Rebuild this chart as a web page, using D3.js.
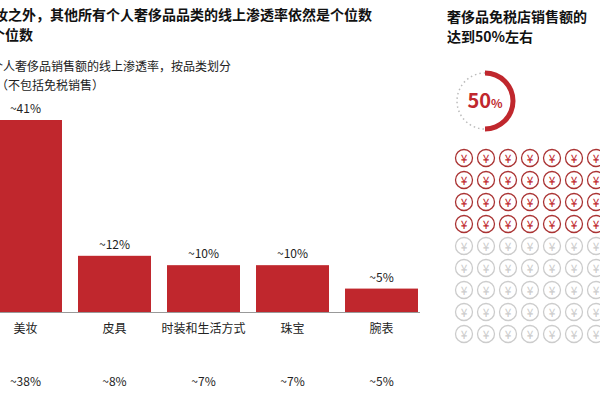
<!DOCTYPE html>
<html><head><meta charset="utf-8">
<script src="https://cdn.jsdelivr.net/npm/d3@7"></script>
<style>body{margin:0;background:#fff;font-family:"Noto Sans CJK SC",sans-serif}</style>
</head><body><svg width="600" height="400"></svg>
<script>
const categories = ['美妆', '皮具', '时装和生活方式', '珠宝', '腕表'];
const values = [41, 12, 10, 10, 5];
const bottomLabels = ['~38%', '~8%', '~7%', '~7%', '~5%'];
const share = 50;
const gridRed = 28, gridTotal = 63;

const red = '#c0272d';
const svg = d3.select('svg');

// titles (clipped at the left like the source)
const t = svg.append('g').attr('font-weight', 'bold').attr('font-size', 14).attr('fill', '#111').attr('text-anchor', 'end');
t.append('text').attr('x', 372).attr('y', 20).text('除美妆之外，其他所有个人奢侈品品类的线上渗透率依然是个位数');
t.append('text').attr('x', 33).attr('y', 40).text('仍为个位数');
const s = svg.append('g').attr('font-size', 12).attr('fill', '#222').attr('text-anchor', 'end');
s.append('text').attr('x', 231).attr('y', 71).text('个人奢侈品销售额的线上渗透率，按品类划分');
s.append('text').attr('x', 104).attr('y', 90).text('（不包括免税销售）');

// bars
const x = d3.scaleBand().domain(categories).range([-11, 418]).paddingInner(0.18).paddingOuter(0);
const y = d3.scaleLinear().domain([0, 41]).range([312, 120]);
svg.selectAll('rect.bar').data(values).enter().append('rect')
  .attr('x', (d, i) => x(categories[i])).attr('width', x.bandwidth())
  .attr('y', d => y(d)).attr('height', d => y(0) - y(d)).attr('fill', red);
svg.selectAll('text.val').data(values).enter().append('text')
  .attr('x', (d, i) => x(categories[i]) + x.bandwidth() / 2).attr('y', d => y(d) - 7)
  .attr('text-anchor', 'middle').attr('font-size', 12).attr('fill', '#222').text(d => '~' + d + '%');
svg.append('line').attr('x1', 0).attr('x2', 420).attr('y1', 312.5).attr('y2', 312.5).attr('stroke', '#999');
svg.selectAll('text.cat').data(categories).enter().append('text')
  .attr('x', d => x(d) + x.bandwidth() / 2).attr('y', 333)
  .attr('text-anchor', 'middle').attr('font-size', 12).attr('fill', '#222').text(d => d);
svg.selectAll('text.bot').data(bottomLabels).enter().append('text')
  .attr('x', (d, i) => x(categories[i]) + x.bandwidth() / 2).attr('y', 386)
  .attr('text-anchor', 'middle').attr('font-size', 12).attr('fill', '#222').text(d => d);

// right panel
const r = svg.append('g').attr('font-weight', 'bold').attr('font-size', 14).attr('fill', '#111');
r.append('text').attr('x', 447).attr('y', 22).text('奢侈品免税店销售额的');
r.append('text').attr('x', 447).attr('y', 42).text('达到50%左右');

const cx = 485, cy = 101, rad = 28;
const arc = d3.arc().innerRadius(rad - 2.5).outerRadius(rad + 2.5);
svg.append('circle').attr('cx', cx).attr('cy', cy).attr('r', rad).attr('fill', 'none')
  .attr('stroke', '#bbb').attr('stroke-width', 1.5).attr('stroke-dasharray', '1.5 3');
svg.append('path').attr('transform', `translate(${cx},${cy})`)
  .attr('d', arc({startAngle: 0, endAngle: 2 * Math.PI * share / 100})).attr('fill', red);
const lbl = svg.append('text').attr('x', cx).attr('y', cy + 7).attr('text-anchor', 'middle').attr('fill', red).attr('font-weight', 'bold');
lbl.append('tspan').attr('font-size', 20).text(share);
lbl.append('tspan').attr('font-size', 12).text('%');

const cells = d3.range(gridTotal);
const gx = d3.scaleLinear().domain([0, 6]).range([464, 596]);
const gy = d3.scaleLinear().domain([0, 8]).range([158, 334]);
const g = svg.selectAll('g.cell').data(cells).enter().append('g')
  .attr('transform', d => `translate(${gx(d % 7)},${gy(Math.floor(d / 7))})`);
g.append('circle').attr('r', 8.5).attr('fill', 'none').attr('stroke-width', 1.3)
  .attr('stroke', d => d < gridRed ? '#a33' : '#ccc');
g.append('text').attr('y', 4.5).attr('text-anchor', 'middle').attr('font-size', 12)
  .attr('fill', d => d < gridRed ? red : '#ccc').text('¥');
</script></body></html>
